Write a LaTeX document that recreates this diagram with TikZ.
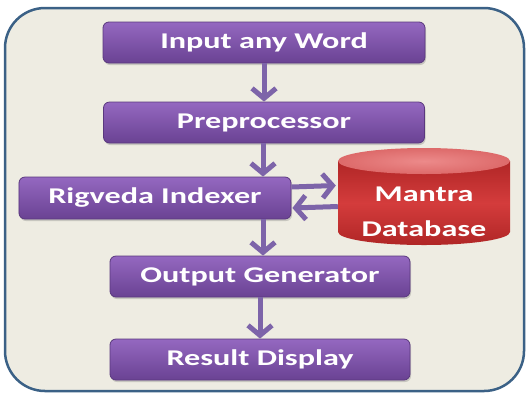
\documentclass[tikz,border=0pt]{standalone}
\usepackage{fontspec}
\newfontfamily\boxfont[FakeStretch=1.43]{Carlito}
\usetikzlibrary{arrows.meta,shadows,calc}
\definecolor{framefill}{HTML}{EEECE2}
\definecolor{framedraw}{HTML}{3B6186}
\definecolor{boxtop}{HTML}{9468C0}
\definecolor{boxbot}{HTML}{6A4293}
\definecolor{boxline}{HTML}{5A387E}
\definecolor{arrcol}{HTML}{7D64A9}
\definecolor{dbmid}{HTML}{D43C3C}
\definecolor{dbedge}{HTML}{B02626}
\definecolor{dbtop}{HTML}{EC8A8A}
\definecolor{dbtopedge}{HTML}{DD6A6A}
\tikzset{
  stepbox/.style={rectangle, rounded corners=6bp, draw=boxline, line width=0.8bp,
    top color=boxtop, bottom color=boxbot, text=white,
    font=\boxfont\bfseries\fontsize{22.5bp}{27bp}\selectfont,
    minimum height=41bp, inner sep=0pt,
    drop shadow={shadow xshift=1bp, shadow yshift=-2bp, opacity=0.35}},
  arr/.style={draw=arrcol, line width=5bp,
    -{Straight Barb[length=10bp,width=24bp]}},
  dbtext/.style={text=white, align=center,
    font=\boxfont\bfseries\fontsize{22.5bp}{35bp}\selectfont, inner sep=0pt}
}
\begin{document}
\begin{tikzpicture}[x=1bp,y=-1bp]
\useasboundingbox (0,0) rectangle (528,394);
\fill[white] (0,0) rectangle (528,394);
% frame
\draw[fill=framefill, draw=framedraw, line width=2.5bp, rounded corners=40bp]
  (5,8) rectangle (524,391);
% boxes
\node[stepbox, minimum width=322bp] (in)  at (264,42.5)  {Input any Word};
\node[stepbox, minimum width=321bp] (pre) at (264,122.5) {Preprocessor};
\node[stepbox, minimum width=272bp, minimum height=42bp] (rig) at (155,198) {Rigveda Indexer};
\node[stepbox, minimum width=300bp] (out) at (260,276.5) {Output Generator};
\node[stepbox, minimum width=300bp] (res) at (260,359.5) {Result Display};
% database cylinder
\node[rectangle, minimum width=172bp, minimum height=71bp, inner sep=0pt] (db) at (424,196.5) {};
\shade[left color=dbedge, right color=dbedge, middle color=dbmid, shading angle=0]
  (338,161) -- (338,232) arc[start angle=180, end angle=0, x radius=86, y radius=13]
  -- (510,161) -- cycle;
\shade[inner color=dbtop, outer color=dbtopedge]
  (424,161) ellipse[x radius=86, y radius=13];
\node[dbtext] (dbt) at (424,211.5) {Mantra\\Database};
% connectors
\draw[arr] (in.south) -- (pre.north);
\draw[arr] ($(pre.south)+(-1,0)$) -- ($(pre.south -| 263,0)!1!(263,0 |- rig.north)$);
\draw[arr] (263,0 |- rig.south) -- (263,0 |- out.north);
\draw[arr] (out.south) -- (res.north);
\draw[arr] ([yshift=11bp]rig.east) -- ([yshift=11bp,xshift=-2bp]db.west);
\draw[arr] ([yshift=-10bp]db.west) -- ([yshift=-10bp,xshift=1bp]rig.east);
\end{tikzpicture}
\end{document}
